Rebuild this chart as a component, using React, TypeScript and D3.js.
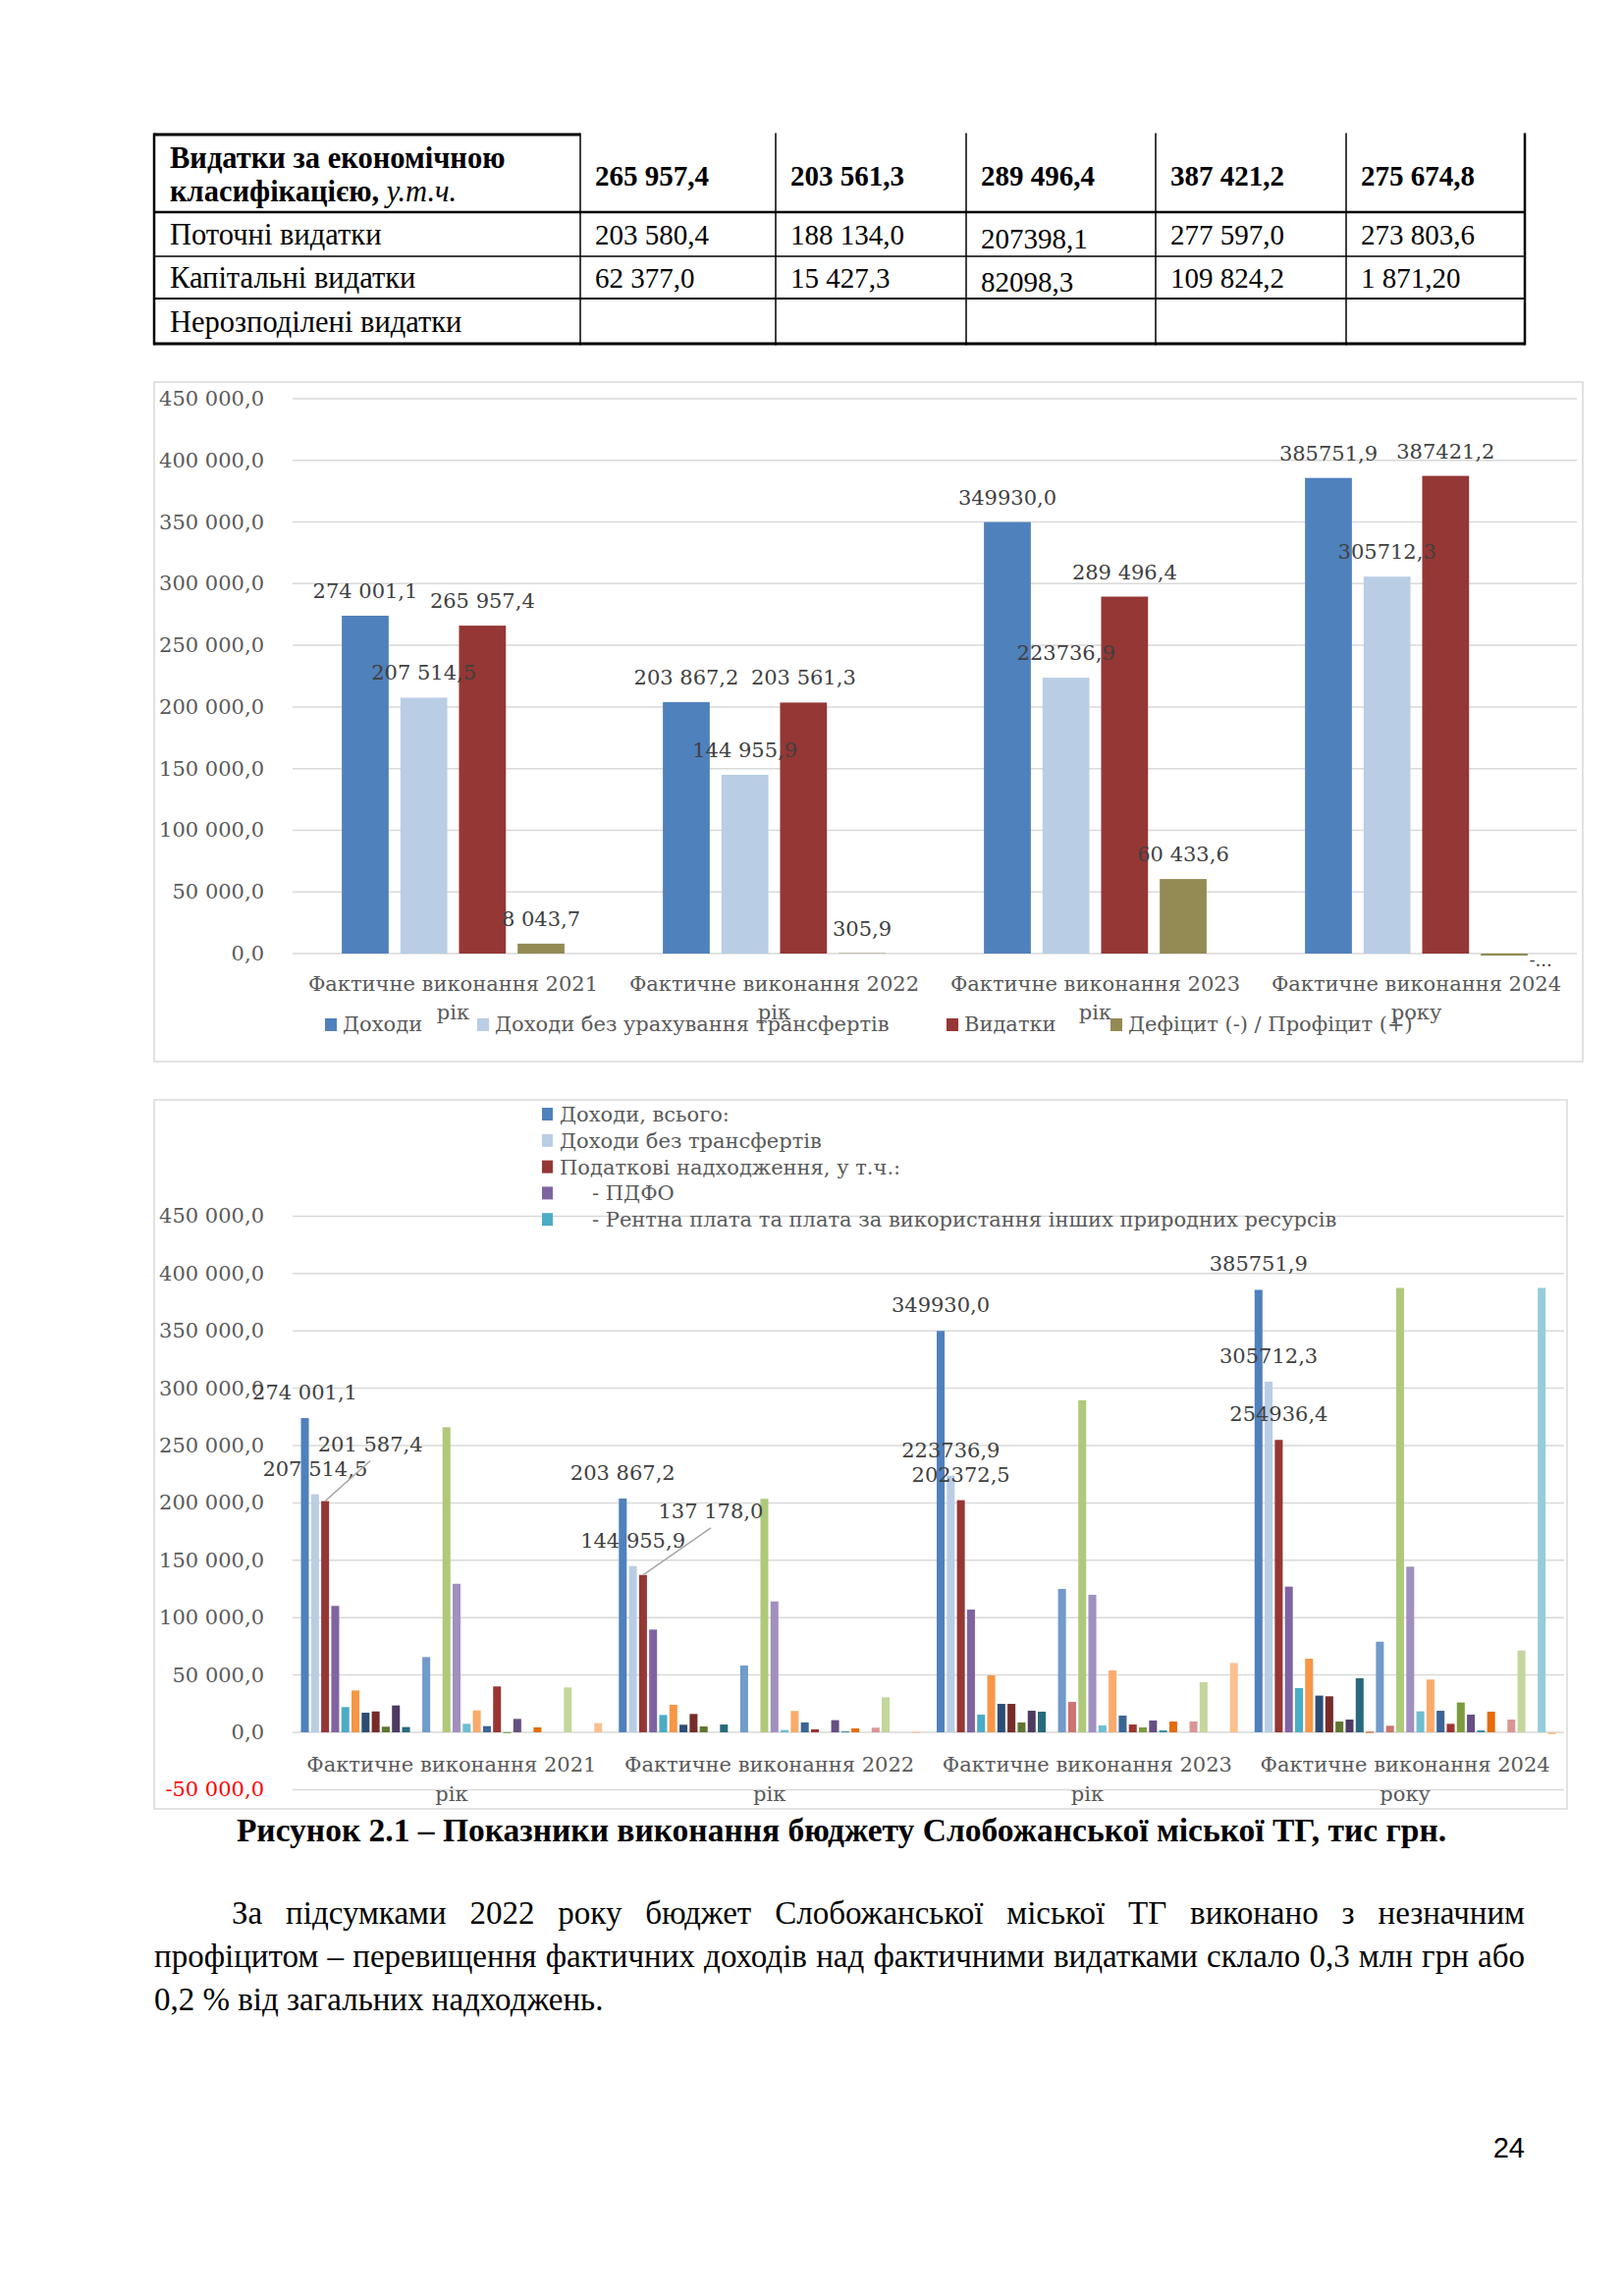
import React from 'react';
import * as d3 from 'd3';

// ---------- table ----------
const tableHeaderValues = ['265 957,4', '203 561,3', '289 496,4', '387 421,2', '275 674,8'];
const currentExpenses = ['203 580,4', '188 134,0', '207398,1', '277 597,0', '273 803,6'];
const capitalExpenses = ['62 377,0', '15 427,3', '82098,3', '109 824,2', '1 871,20'];
const tableRowNames = ['Поточні видатки', 'Капітальні видатки', 'Нерозподілені видатки'];

// ---------- shared categories ----------
const categories = ['2021', '2022', '2023', '2024'];
const categoryLine1 = [
  'Фактичне виконання 2021',
  'Фактичне виконання 2022',
  'Фактичне виконання 2023',
  'Фактичне виконання 2024',
];
const categoryLine2 = ['рік', 'рік', 'рік', 'року'];

// ---------- chart 1 ----------
const budgetSeries = ['Доходи', 'Доходи без урахування трансфертів', 'Видатки', 'Дефіцит (-) / Профіцит (+)'];
const budgetColors = ['#4F81BD', '#B9CDE5', '#953735', '#948A54'];
const incomeTotal = [274001.1, 203867.2, 349930.0, 385751.9];
const incomeNoTransfers = [207514.5, 144955.9, 223736.9, 305712.3];
const expenses = [265957.4, 203561.3, 289496.4, 387421.2];
const balance = [8043.7, 305.9, 60433.6, -1669.3];
const incomeTotalLabels = ['274 001,1', '203 867,2', '349930,0', '385751,9'];
const incomeNoTransfersLabels = ['207 514,5', '144 955,9', '223736,9', '305712,3'];
const expensesLabels = ['265 957,4', '203 561,3', '289 496,4', '387421,2'];
const balanceLabels = ['8 043,7', '305,9', '60 433,6', '-...'];

// ---------- chart 2 (30 series per year) ----------
const detailLegend = [
  'Доходи, всього:',
  'Доходи без трансфертів',
  'Податкові надходження, у т.ч.:',
  '- ПДФО',
  '- Рентна плата та плата за використання інших природних ресурсів',
];
const detailColors = [
  '#4F81BD', '#B9CDE5', '#953735', '#8064A2', '#4BACC6', '#F79646',
  '#2C4D75', '#772C2A', '#5F7530', '#4D3B62', '#276A7C', '#B65708',
  '#729ACA', '#CD7371', '#AFC97A', '#A18FBF', '#6FBDD1', '#F9AB6B',
  '#3A6596', '#9B3532', '#7D9C3E', '#664F82', '#3A8FA7', '#E46C0A',
  '#8EB4E3', '#D99694', '#C3D69B', '#B3A2C7', '#93CDDD', '#FAC090',
];
const detail2021 = [
  274001.1, 207514.5, 201587.4, 110200, 22000, 36500, 17100, 18200, 4900, 23400,
  4600, 0, 65600, 0, 265957.4, 129500, 7400, 19100, 5400, 40000,
  200, 11700, 0, 4300, 0, 0, 39100, 0, 0, 8043.7,
];
const detail2022 = [
  203867.2, 144955.9, 137178.0, 89600, 15100, 24000, 6600, 16000, 5100, 0,
  6800, 0, 58200, 0, 203561.3, 114100, 2000, 18600, 8600, 2600,
  0, 10600, 900, 3400, 0, 4000, 30500, 0, 0, 305.9,
];
const detail2023 = [
  349930.0, 223736.9, 202372.5, 107000, 15400, 49700, 24800, 24800, 8600, 18800,
  18000, 0, 125000, 26500, 289496.4, 119900, 6000, 53900, 14600, 6800,
  4300, 10300, 1700, 9400, 0, 9400, 43700, 0, 0, 60433.6,
];
const detail2024 = [
  385751.9, 305712.3, 254936.4, 127000, 38500, 64200, 32000, 31400, 9400, 11100,
  47100, 500, 79000, 5700, 387421.2, 144400, 18300, 46000, 18800, 7400,
  26000, 15400, 1700, 18000, 0, 11100, 71300, 0, 387421.2, -1669.3,
];
const detailLabels = [
  ['274 001,1', '207 514,5', '201 587,4'],
  ['203 867,2', '144 955,9', '137 178,0'],
  ['349930,0', '223736,9', '202372,5'],
  ['385751,9', '305712,3', '254936,4'],
];

const chartFont = 'DejaVu Serif';
const axisGray = '#595959';
const labelGray = '#404040';
const gridGray = '#D9D9D9';

const locale = d3.formatLocale({ decimal: ',', thousands: ' ', grouping: [3], currency: ['', ''], minus: '-' });
const tickFmt = locale.format(',.1f');

function BudgetChart() {
  const x = d3.scaleBand<string>().domain(categories).range([298, 1606]).paddingInner(0.27).paddingOuter(0.135);
  const xs = d3.scaleBand<number>().domain(d3.range(4)).range([0, x.bandwidth()]).paddingInner(0.2).paddingOuter(0.1);
  const y = d3.scaleLinear().domain([0, 450000]).range([971, 406]);
  const series = [incomeTotal, incomeNoTransfers, expenses, balance];
  const labels = [incomeTotalLabels, incomeNoTransfersLabels, expensesLabels, balanceLabels];
  const legendX = [331, 486, 964, 1131];

  return (
    <g fontFamily={chartFont}>
      <rect x={157} y={389} width={1455} height={692} fill="#fff" stroke={gridGray} strokeWidth={1.5} />
      {y.ticks(10).map((t) => (
        <g key={t}>
          <line x1={298} x2={1606} y1={y(t)} y2={y(t)} stroke={gridGray} strokeWidth={1.5} />
          <text x={269} y={y(t) + 7} textAnchor="end" fontSize={21} fill={axisGray}>
            {tickFmt(t)}
          </text>
        </g>
      ))}
      {categories.map((c, ci) =>
        series.map((s, si) => {
          const v = s[ci];
          return (
            <rect
              key={c + si}
              x={(x(c) as number) + (xs(si) as number)}
              y={y(Math.max(0, v))}
              width={xs.bandwidth()}
              height={Math.abs(y(v) - y(0))}
              fill={budgetColors[si]}
            />
          );
        })
      )}
      {categories.map((c, ci) =>
        series.map((s, si) => {
          const v = s[ci];
          const cx = (x(c) as number) + (xs(si) as number) + xs.bandwidth() / 2;
          return v >= 0 ? (
            <text key={'l' + c + si} x={cx} y={y(v) - 18} textAnchor="middle" fontSize={21} fill={labelGray}>
              {labels[si][ci]}
            </text>
          ) : (
            <text key={'l' + c + si} x={cx + 37} y={y(0) + 13} textAnchor="middle" fontSize={18} fill={labelGray}>
              {labels[si][ci]}
            </text>
          );
        })
      )}
      {categories.map((c, ci) => {
        const cx = (x(c) as number) + x.bandwidth() / 2;
        return (
          <g key={'cat' + c}>
            <text x={cx} y={1009} textAnchor="middle" fontSize={21} fill={axisGray}>
              {categoryLine1[ci]}
            </text>
            <text x={cx} y={1038} textAnchor="middle" fontSize={21} fill={axisGray}>
              {categoryLine2[ci]}
            </text>
          </g>
        );
      })}
      {budgetSeries.map((name, i) => (
        <g key={name}>
          <rect x={legendX[i]} y={1037} width={12} height={13} fill={budgetColors[i]} />
          <text x={legendX[i] + 18} y={1050} fontSize={21} fill={axisGray}>
            {name}
          </text>
        </g>
      ))}
    </g>
  );
}

function DetailChart() {
  const years = [detail2021, detail2022, detail2023, detail2024];
  const x = d3.scaleBand<string>().domain(categories).range([298, 1593]).paddingInner(0.0456).paddingOuter(0.0228);
  const xs = d3.scaleBand<number>().domain(d3.range(30)).range([0, x.bandwidth()]).paddingInner(0.22).paddingOuter(0.11);
  const y = d3.scaleLinear().domain([-50000, 450000]).range([1822.4, 1238.4]);
  // label offsets for the two labels Excel moved out with leader lines
  const moved: { [k: string]: { dx: number; dy: number } } = {
    '0-2': { dx: 46, dy: -58 },
    '1-2': { dx: 69, dy: -65 },
  };

  return (
    <g fontFamily={chartFont}>
      <rect x={157} y={1120} width={1439} height={722} fill="#fff" stroke={gridGray} strokeWidth={1.5} />
      {y.ticks(10).map((t) => (
        <g key={t}>
          <line x1={298} x2={1593} y1={y(t)} y2={y(t)} stroke={gridGray} strokeWidth={1.5} />
          <text x={269} y={y(t) + 7} textAnchor="end" fontSize={21} fill={t < 0 ? '#FF0000' : axisGray}>
            {tickFmt(t)}
          </text>
        </g>
      ))}
      {categories.map((c, ci) =>
        years[ci].map((v, si) => {
          if (v === 0) return null;
          const bx = (x(c) as number) + (xs(si) as number);
          return (
            <rect
              key={c + '-' + si}
              x={bx}
              y={y(Math.max(0, v))}
              width={xs.bandwidth()}
              height={Math.max(1, Math.abs(y(v) - y(0)))}
              fill={detailColors[si]}
            />
          );
        })
      )}
      {categories.map((c, ci) =>
        detailLabels[ci].map((lab, si) => {
          const v = years[ci][si];
          const cx = (x(c) as number) + (xs(si) as number) + xs.bandwidth() / 2;
          const top = y(v);
          const m = moved[ci + '-' + si];
          if (m) {
            const lx = cx + m.dx;
            const ly = top + m.dy;
            return (
              <g key={'lab' + ci + si}>
                <line x1={lx} y1={ly + 17} x2={cx} y2={top} stroke="#A6A6A6" strokeWidth={1.5} />
                <text x={lx} y={ly + 7} textAnchor="middle" fontSize={21} fill={labelGray}>
                  {lab}
                </text>
              </g>
            );
          }
          return (
            <text key={'lab' + ci + si} x={cx} y={top - 19} textAnchor="middle" fontSize={21} fill={labelGray}>
              {lab}
            </text>
          );
        })
      )}
      {categories.map((c, ci) => {
        const cx = (x(c) as number) + x.bandwidth() / 2;
        return (
          <g key={'cat' + c}>
            <text x={cx} y={1804} textAnchor="middle" fontSize={21} fill={axisGray}>
              {categoryLine1[ci]}
            </text>
            <text x={cx} y={1834} textAnchor="middle" fontSize={21} fill={axisGray}>
              {categoryLine2[ci]}
            </text>
          </g>
        );
      })}
      {detailLegend.map((name, i) => {
        const cy = 1135 + i * 26.8;
        return (
          <g key={name}>
            <rect x={552} y={cy - 7} width={11} height={13} fill={detailColors[i]} />
            <text x={i < 3 ? 570 : 603} y={cy + 7} fontSize={21} fill={axisGray}>
              {name}
            </text>
          </g>
        );
      })}
    </g>
  );
}

function BudgetTable() {
  const cols = [157, 591, 790, 984, 1177, 1371, 1553];
  const rows = [137, 216, 261, 304, 350];
  const fs = 29;
  const fsText = 30.5;
  return (
    <g fontFamily="Liberation Serif" fill="#000">
      {/* borders */}
      <line x1={cols[0]} x2={cols[1]} y1={rows[0]} y2={rows[0]} stroke="#000" strokeWidth={3} />
      <line x1={cols[0]} x2={cols[6]} y1={rows[1]} y2={rows[1]} stroke="#000" strokeWidth={2.5} />
      <line x1={cols[0]} x2={cols[6]} y1={rows[2]} y2={rows[2]} stroke="#000" strokeWidth={1.5} />
      <line x1={cols[0]} x2={cols[6]} y1={rows[3]} y2={rows[3]} stroke="#000" strokeWidth={2} />
      <line x1={cols[0]} x2={cols[6]} y1={rows[4]} y2={rows[4]} stroke="#000" strokeWidth={3} />
      {cols.map((cx, i) => (
        <line
          key={cx}
          x1={cx}
          x2={cx}
          y1={rows[0] - 1.5}
          y2={rows[4] + 1.5}
          stroke="#000"
          strokeWidth={i === 0 || i === 6 ? 2.5 : 1.5}
        />
      ))}
      {/* header */}
      <text x={173} y={171} fontSize={fsText} fontWeight="bold">
        Видатки за економічною
      </text>
      <text x={173} y={205} fontSize={fsText} fontWeight="bold">
        класифікацією, <tspan fontWeight="normal" fontStyle="italic">у.т.ч.</tspan>
      </text>
      {tableHeaderValues.map((v, i) => (
        <text key={'h' + i} x={cols[i + 1] + 15} y={189} fontSize={fs} fontWeight="bold">
          {v}
        </text>
      ))}
      {tableRowNames.map((n, r) => (
        <text key={n} x={173} y={[249, 293, 338][r]} fontSize={fsText}>
          {n}
        </text>
      ))}
      {currentExpenses.map((v, i) => (
        <text key={'c' + i} x={cols[i + 1] + 15} y={249 + (i === 2 ? 4 : 0)} fontSize={fs}>
          {v}
        </text>
      ))}
      {capitalExpenses.map((v, i) => (
        <text key={'k' + i} x={cols[i + 1] + 15} y={293 + (i === 2 ? 4 : 0)} fontSize={fs}>
          {v}
        </text>
      ))}
    </g>
  );
}

export default function App() {
  const lineStyle: React.CSSProperties = {
    fontFamily: 'Liberation Serif',
    fontSize: 33,
    lineHeight: '44px',
    height: 44,
    whiteSpace: 'nowrap',
    color: '#000',
  };
  return (
    <svg
      width={1654}
      height={2338}
      viewBox="0 0 1654 2338"
      style={{ position: 'absolute', left: 0, top: 0, display: 'block', background: '#fff' }}
    >
      <rect x={0} y={0} width={1654} height={2338} fill="#fff" />
      <BudgetTable />
      <BudgetChart />
      <DetailChart />
      <text x={857} y={1875} textAnchor="middle" fontFamily="Liberation Serif" fontWeight="bold" fontSize={33.5}>
        Рисунок 2.1 – Показники виконання бюджету Слобожанської міської ТГ, тис грн.
      </text>
      <foreignObject x={157} y={1926} width={1396} height={140}>
        <div>
          <div style={{ ...lineStyle, textAlign: 'justify', textAlignLast: 'justify', paddingLeft: 79 }}>
            За підсумками 2022 року бюджет Слобожанської міської ТГ виконано з незначним
          </div>
          <div style={{ ...lineStyle, textAlign: 'justify', textAlignLast: 'justify' }}>
            профіцитом – перевищення фактичних доходів над фактичними видатками склало 0,3 млн грн або
          </div>
          <div style={lineStyle}>0,2 % від загальних надходжень.</div>
        </div>
      </foreignObject>
      <text x={1553} y={2197} textAnchor="end" fontFamily="Liberation Sans" fontSize={29}>
        24
      </text>
    </svg>
  );
}
